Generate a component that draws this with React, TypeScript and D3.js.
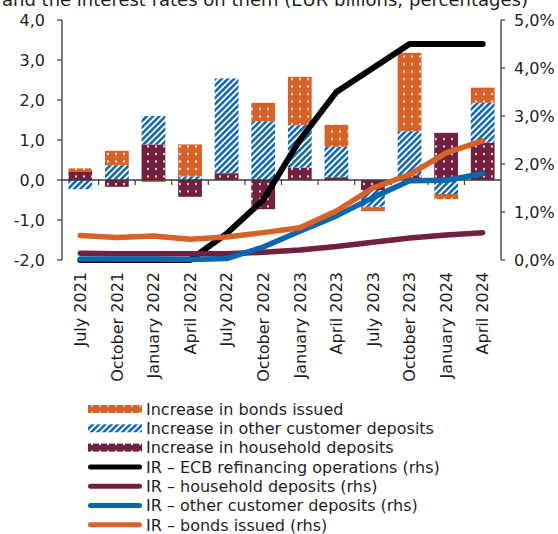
import React from "react";
import * as d3 from "d3";

const categories = [
  "July 2021", "October 2021", "January 2022", "April 2022",
  "July 2022", "October 2022", "January 2023", "April 2023",
  "July 2023", "October 2023", "January 2024", "April 2024",
];

// Quarterly increases (EUR billions)
const householdDeposits = [0.2, -0.17, 0.89, -0.42, 0.17, -0.73, 0.31, 0.07, -0.25, 0.12, 1.18, 0.93];
const otherDeposits = [-0.23, 0.37, 0.71, 0.09, 2.37, 1.47, 1.06, 0.76, -0.42, 1.1, -0.35, 1.0];
const bondsIssued = [0.09, 0.36, -0.05, 0.8, 0, 0.46, 1.21, 0.55, -0.11, 1.96, -0.13, 0.38];

// Interest rates (%, right-hand scale)
const irEcb = [0, 0, 0, 0, 0.55, 1.25, 2.5, 3.5, 4.0, 4.5, 4.5, 4.5];
const irHousehold = [0.14, 0.13, 0.13, 0.13, 0.13, 0.16, 0.21, 0.28, 0.37, 0.46, 0.52, 0.57];
const irOther = [0.02, 0.02, 0.02, 0.01, 0.03, 0.27, 0.6, 0.92, 1.3, 1.65, 1.66, 1.8];
const irBonds = [0.51, 0.47, 0.5, 0.43, 0.48, 0.57, 0.67, 1.02, 1.5, 1.78, 2.23, 2.48];

const leftTicks = [-2, -1, 0, 1, 2, 3, 4];
const rightTicks = [0, 1, 2, 3, 4, 5];

const ORANGE = "#D6622A";
const MAROON = "#71203F";
const BLUE = "#0B66AF";
const AXIS = "#3a3a3a";
const TEXT = "#1e1e1e";
const FONT = "'DejaVu Sans', Verdana, sans-serif";

const W = 558;
const H = 534;
const plot = { left: 62, right: 501, top: 20, bottom: 260 };

const fmt = (v: number, digits = 1) => v.toFixed(digits).replace(".", ",").replace("−", "-");

export default function App() {
  const x = d3.scaleBand<string>().domain(categories).range([plot.left, plot.right]).paddingInner(0.35).paddingOuter(0.175);
  const step = (plot.right - plot.left) / categories.length;
  const yL = d3.scaleLinear().domain([-2, 4]).range([plot.bottom, plot.top]);
  const yR = d3.scaleLinear().domain([0, 5]).range([plot.bottom, plot.top]);

  const table = categories.map((c, i) => ({
    cat: c,
    household: householdDeposits[i],
    other: otherDeposits[i],
    bonds: bondsIssued[i],
  }));
  const keys = ["household", "other", "bonds"];
  const fills: Record<string, string> = {
    household: "url(#dotsMaroon)",
    other: "url(#hatchBlue)",
    bonds: "url(#dotsOrange)",
  };
  const stacked = d3.stack<any>().keys(keys).offset(d3.stackOffsetDiverging)(table);

  const cx = (i: number) => (x(categories[i]) as number) + x.bandwidth() / 2;
  const line = d3.line<number>().x((_, i) => cx(i)).y((v) => yR(v));

  const rateSeries = [
    { values: irEcb, color: "#000", width: 6 },
    { values: irHousehold, color: MAROON, width: 5.5 },
    { values: irOther, color: BLUE, width: 5.5 },
    { values: irBonds, color: ORANGE, width: 5.5 },
  ];

  const legend = [
    { label: "Increase in bonds issued", fill: "url(#dotsOrange)" },
    { label: "Increase in other customer deposits", fill: "url(#hatchBlue)" },
    { label: "Increase in household deposits", fill: "url(#dotsMaroon)" },
    { label: "IR \u2013 ECB refinancing operations (rhs)", stroke: "#000" },
    { label: "IR \u2013 household deposits (rhs)", stroke: MAROON },
    { label: "IR \u2013 other customer deposits (rhs)", stroke: BLUE },
    { label: "IR \u2013 bonds issued (rhs)", stroke: ORANGE },
  ];
  const legendTop = 409;
  const legendGap = 19.3;

  return (
    <svg width={W} height={H} style={{ position: "absolute", left: 0, top: 0, background: "#fff" }} fontFamily={FONT}>
      <defs>
        <pattern id="dotsOrange" patternUnits="userSpaceOnUse" width={8} height={7.5}>
          <rect width={8} height={7.5} fill={ORANGE} />
          <rect x={3} y={3} width={2} height={2} fill="#fff" opacity={0.85} />
        </pattern>
        <pattern id="dotsMaroon" patternUnits="userSpaceOnUse" width={8} height={7.5}>
          <rect width={8} height={7.5} fill={MAROON} />
          <rect x={3} y={3} width={2} height={2} fill="#fff" opacity={0.85} />
        </pattern>
        <pattern id="hatchBlue" patternUnits="userSpaceOnUse" width={4.4} height={10} patternTransform="rotate(45)">
          <rect width={4.4} height={10} fill="#fff" />
          <rect width={2.5} height={10} fill={BLUE} />
        </pattern>
      </defs>

      {/* Title (top line cut by the frame) */}
      <text x={2} y={6} fontSize={18} fill={TEXT}>
        and the interest rates on them (EUR billions; percentages)
      </text>

      {/* Stacked bars */}
      {stacked.map((s) => (
        <g key={s.key}>
          {s.map((d, i) => {
            const y0 = yL(d[0]);
            const y1 = yL(d[1]);
            const h = Math.abs(y0 - y1);
            if (h < 0.01) return null;
            return (
              <rect
                key={i}
                x={x(categories[i])}
                y={Math.min(y0, y1)}
                width={x.bandwidth()}
                height={h}
                fill={fills[s.key]}
              />
            );
          })}
        </g>
      ))}

      {/* Zero line with category ticks */}
      <line x1={plot.left} x2={plot.right} y1={yL(0)} y2={yL(0)} stroke={AXIS} strokeWidth={1.3} />
      {d3.range(1, categories.length).map((k) => (
        <line key={k} x1={plot.left + k * step} x2={plot.left + k * step} y1={yL(0)} y2={yL(0) + 5} stroke={AXIS} strokeWidth={1.2} />
      ))}

      {/* Rate lines */}
      {rateSeries.map((r, k) => (
        <path key={k} d={line(r.values) as string} fill="none" stroke={r.color} strokeWidth={r.width} strokeLinecap="round" strokeLinejoin="round" />
      ))}

      {/* Left axis */}
      <line x1={plot.left} x2={plot.left} y1={plot.top} y2={plot.bottom} stroke={AXIS} strokeWidth={1.3} />
      {leftTicks.map((t) => (
        <g key={t} transform={`translate(0,${yL(t)})`}>
          <line x1={plot.left - 5} x2={plot.left} stroke={AXIS} strokeWidth={1.2} />
          <text x={45} dy="0.36em" textAnchor="end" fontSize={16} fill={TEXT}>{fmt(t)}</text>
        </g>
      ))}

      {/* Right axis */}
      <line x1={plot.right} x2={plot.right} y1={plot.top} y2={plot.bottom} stroke={AXIS} strokeWidth={1.3} />
      {rightTicks.map((t) => (
        <g key={t} transform={`translate(0,${yR(t)})`}>
          <line x1={plot.right} x2={plot.right + 4} stroke={AXIS} strokeWidth={1.2} />
          <text x={514} dy="0.36em" textAnchor="start" fontSize={16} fill={TEXT}>{fmt(t) + "%"}</text>
        </g>
      ))}

      {/* Category labels */}
      {categories.map((c, i) => (
        <text key={c} transform={`translate(${cx(i)},272) rotate(-90)`} dy="0.36em" textAnchor="end" fontSize={16} fill={TEXT}>
          {c}
        </text>
      ))}

      {/* Legend */}
      {legend.map((l, i) => {
        const yy = legendTop + i * legendGap;
        return (
          <g key={l.label} transform={`translate(0,${yy})`}>
            {l.fill ? (
              <rect x={88} y={-4} width={54} height={8} fill={l.fill} />
            ) : (
              <line x1={90.5} x2={139.5} y1={0} y2={0} stroke={l.stroke} strokeWidth={5} strokeLinecap="round" />
            )}
            <text x={146} dy="0.36em" fontSize={16} fill={TEXT}>{l.label}</text>
          </g>
        );
      })}
    </svg>
  );
}
